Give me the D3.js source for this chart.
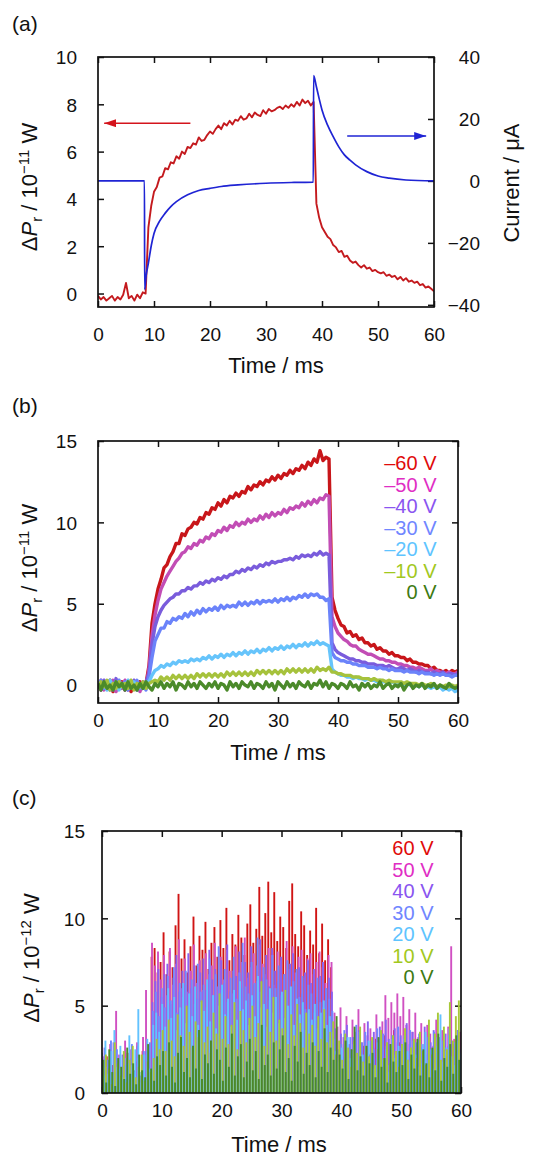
<!DOCTYPE html>
<html><head><meta charset="utf-8">
<script src="https://cdn.jsdelivr.net/npm/d3@7"></script>
<style>
body{margin:0;background:#fff;}
svg text{font-family:"Liberation Sans",Arial,Helvetica,sans-serif;}
</style></head><body>
<svg id="chart" width="536" height="1156"></svg>
<script>
// ---------- DATA ----------
// sampling clock (ms), 0.5 ms steps, 121 samples, shared by sampled series
const timeMs = d3.range(0, 60.001, 0.5);
const xTicks = [0, 10, 20, 30, 40, 50, 60];
const aPowerTicks = [0, 2, 4, 6, 8, 10];
const aCurrentTicks = [-40, -20, 0, 20, 40];
const bPowerTicks = [0, 5, 10, 15];
const cPowerTicks = [0, 5, 10, 15];

// (a) ΔPr (10^-11 W)
const aPower = [
-0.1,-0.25,-0.15,-0.3,-0.2,-0.1,-0.3,-0.15,-0.25,-0.05,
0.45,-0.2,-0.1,-0.3,-0.05,-0.2,0.05,0.0,2.8,3.7,
4.3,4.5,4.9,4.95,5.3,5.25,5.55,5.5,5.8,5.7,
6.0,5.9,6.2,6.15,6.35,6.3,6.6,6.45,6.5,6.7,
6.85,6.75,6.95,7.1,6.95,7.2,7.1,7.3,7.15,7.35,
7.3,7.5,7.35,7.4,7.6,7.45,7.65,7.55,7.5,7.75,
7.6,7.8,7.7,7.75,7.85,7.9,7.8,7.95,7.85,8.0,
7.9,8.1,7.95,8.2,8.05,8.15,7.95,8.1,3.8,3.2,
2.8,2.6,2.4,2.3,2.05,1.95,1.75,1.8,1.55,1.6,
1.4,1.3,1.35,1.2,1.1,1.2,1.05,1.1,0.95,1.0,
0.9,0.85,0.9,0.75,0.8,0.7,0.75,0.6,0.7,0.55,
0.65,0.5,0.55,0.45,0.5,0.35,0.4,0.25,0.3,0.2,
0.1];
// (a) current (µA), read at these times (ms)
const aCurrentTime = [0,8.3,8.33,8.6,9,9.5,10,11,12,13,14,16,18,20,22,25,30,35,38.45,38.5,39,39.5,40,41,42,43,44,45,46,48,50,52,55,60];
const aCurrent     = [0,0,-35,-30.5,-26.5,-21,-17,-13,-10.4,-8.3,-6.7,-4.5,-3.1,-2.4,-1.8,-1.3,-0.75,-0.5,-0.4,34,30.4,26.5,22.9,18,14.3,11,8.4,6.7,5.2,3.0,1.6,0.9,0.3,0];

// (b) ΔPr (10^-11 W) at bias voltages
const bLabels = ["–60 V", "–50 V", "–40 V", "–30 V", "–20 V", "–10 V", "0 V"];
const bM60 = [
0.1,-0.3,0.2,-0.2,0.3,-0.4,0.1,-0.2,0.2,-0.3,
0.2,-0.4,0.1,-0.3,0.2,-0.2,0.1,1.2,3.8,5.0,
5.9,6.5,7.2,7.4,7.9,8.2,8.7,8.7,9.3,9.2,
9.6,9.7,10.0,9.9,10.3,10.2,10.6,10.5,10.9,10.8,
11.2,11.0,11.4,11.2,11.6,11.5,11.8,11.6,11.9,11.8,
12.2,12.0,12.3,12.2,12.5,12.3,12.6,12.5,12.8,12.6,
12.9,12.7,13.0,12.9,13.2,13.0,13.3,13.2,13.5,13.3,
13.7,13.5,13.9,13.7,14.4,13.8,14.0,13.9,5.4,4.6,
4.1,3.7,3.6,3.2,3.3,3.0,3.1,2.8,2.9,2.6,
2.6,2.4,2.5,2.2,2.3,2.1,2.1,1.9,2.0,1.8,
1.8,1.7,1.7,1.5,1.6,1.4,1.4,1.3,1.3,1.2,
1.2,1.0,1.1,0.9,0.9,0.8,0.9,0.7,0.9,0.8,
0.9];
const bM50 = [
-0.2,0.3,-0.3,0.2,-0.1,0.3,-0.4,0.1,-0.2,0.3,
-0.3,0.2,-0.2,0.1,-0.4,0.2,-0.1,1.0,3.0,4.3,
5.2,5.9,6.3,6.7,7.0,7.3,7.6,7.8,8.1,8.2,
8.5,8.4,8.7,8.6,8.9,8.8,9.1,9.0,9.3,9.2,
9.5,9.4,9.7,9.5,9.8,9.7,10.0,9.8,10.0,9.9,
10.2,10.0,10.2,10.1,10.4,10.2,10.5,10.3,10.6,10.4,
10.6,10.5,10.8,10.6,10.9,10.8,11.0,10.9,11.2,11.0,
11.3,11.1,11.4,11.2,11.5,11.4,11.7,11.6,4.2,3.6,
3.2,3.0,2.8,2.7,2.5,2.4,2.4,2.2,2.1,2.0,
1.9,1.9,1.8,1.7,1.6,1.6,1.5,1.5,1.4,1.4,
1.3,1.3,1.2,1.2,1.1,1.1,1.0,1.1,1.0,0.9,
0.9,1.0,0.8,0.9,0.8,0.8,0.7,0.8,0.7,0.7,
0.8];
const bM40 = [
0.2,-0.3,0.3,-0.1,0.2,-0.3,0.4,-0.2,0.1,-0.3,
0.2,-0.2,0.3,-0.3,0.1,-0.2,0.2,0.7,2.5,3.6,
4.2,4.6,4.9,5.1,5.3,5.4,5.6,5.6,5.8,5.8,
6.0,5.9,6.1,6.1,6.3,6.2,6.4,6.3,6.5,6.4,
6.6,6.5,6.7,6.6,6.8,6.8,7.0,6.9,7.1,7.0,
7.2,7.1,7.3,7.2,7.4,7.3,7.5,7.4,7.6,7.5,
7.6,7.6,7.7,7.7,7.8,7.7,7.9,7.8,8.0,7.9,
8.0,7.9,8.1,8.0,8.2,8.0,8.1,8.0,2.6,2.2,
2.0,1.9,1.8,1.7,1.6,1.6,1.5,1.5,1.4,1.4,
1.3,1.3,1.3,1.2,1.2,1.2,1.1,1.2,1.1,1.0,
1.0,1.1,1.0,0.9,1.0,0.9,0.8,0.9,0.8,0.8,
0.8,0.7,0.8,0.7,0.7,0.8,0.6,0.7,0.7,0.6,
0.7];
const bM30 = [
-0.1,0.3,-0.2,0.2,-0.3,0.1,-0.2,0.3,-0.1,0.2,
-0.3,0.2,-0.1,0.3,-0.2,0.1,-0.3,0.5,1.7,2.7,
3.1,3.5,3.5,3.9,3.8,4.1,4.0,4.2,4.1,4.4,
4.2,4.5,4.3,4.6,4.4,4.7,4.5,4.7,4.6,4.8,
4.6,4.9,4.7,4.9,4.8,4.9,4.8,5.1,4.9,5.1,
4.9,5.1,5.0,5.2,5.0,5.2,5.1,5.2,5.1,5.3,
5.1,5.3,5.2,5.4,5.2,5.4,5.3,5.5,5.4,5.6,
5.4,5.6,5.5,5.6,5.4,5.4,5.2,5.3,2.0,1.7,
1.6,1.5,1.5,1.4,1.4,1.3,1.3,1.2,1.2,1.2,
1.1,1.1,1.1,1.0,1.1,1.0,1.0,0.9,1.0,0.9,
0.9,0.9,0.8,0.9,0.8,0.8,0.8,0.7,0.8,0.7,
0.7,0.7,0.6,0.7,0.6,0.7,0.6,0.6,0.5,0.6,
0.6];
const bM20 = [
0.2,-0.2,0.1,-0.3,0.3,-0.1,0.2,-0.3,0.1,-0.2,
0.3,-0.1,0.2,-0.3,0.1,-0.2,0.2,0.2,0.6,0.9,
1.0,1.2,1.1,1.3,1.2,1.4,1.3,1.5,1.4,1.5,
1.4,1.6,1.5,1.6,1.5,1.7,1.6,1.8,1.6,1.8,
1.7,1.9,1.7,1.9,1.8,2.0,1.8,2.0,1.9,2.1,
1.9,2.1,2.0,2.2,2.0,2.2,2.1,2.3,2.1,2.3,
2.2,2.4,2.2,2.4,2.3,2.5,2.3,2.5,2.4,2.6,
2.4,2.6,2.5,2.7,2.5,2.6,2.5,2.4,1.0,0.8,
0.7,0.6,0.6,0.5,0.5,0.4,0.5,0.4,0.4,0.3,
0.4,0.3,0.3,0.2,0.3,0.2,0.2,0.1,0.2,0.1,
0.1,0.1,0.0,0.1,0.0,-0.1,0.0,-0.1,0.0,-0.1,
-0.1,-0.2,-0.1,-0.2,-0.1,-0.3,-0.2,-0.3,-0.2,-0.4,
-0.3];
const bM10 = [
-0.2,0.2,-0.1,0.3,-0.3,0.1,-0.2,0.2,-0.1,0.1,
-0.2,0.3,-0.3,0.1,-0.1,0.2,-0.2,0.1,0.2,0.3,
0.2,0.5,0.3,0.5,0.3,0.6,0.4,0.6,0.4,0.6,
0.4,0.6,0.4,0.7,0.5,0.7,0.5,0.7,0.5,0.7,
0.5,0.7,0.5,0.8,0.6,0.8,0.6,0.8,0.6,0.8,
0.6,0.8,0.6,0.9,0.7,0.9,0.7,0.9,0.7,0.9,
0.7,0.9,0.7,1.0,0.8,1.0,0.8,1.0,0.8,1.0,
0.8,1.0,0.8,1.1,0.9,1.0,0.9,1.1,0.8,0.8,
0.7,0.7,0.6,0.6,0.6,0.5,0.5,0.5,0.4,0.4,
0.4,0.3,0.4,0.3,0.3,0.3,0.2,0.3,0.2,0.2,
0.2,0.2,0.1,0.2,0.1,0.1,0.1,0.0,0.1,0.0,
0.0,0.1,0.0,-0.1,0.0,-0.1,0.0,-0.1,0.0,-0.1,
0.0];
const b0 = [
0.1,-0.3,0.2,-0.2,0.0,-0.3,0.2,-0.1,0.1,-0.3,
0.2,-0.2,0.0,-0.3,0.1,-0.2,0.2,-0.1,-0.3,0.1,
-0.1,0.2,-0.2,0.1,-0.1,0.2,-0.3,0.1,0.0,-0.2,
0.2,-0.1,0.1,-0.2,0.2,0.0,-0.2,0.1,-0.1,0.2,
-0.2,0.1,0.0,-0.3,0.2,-0.1,0.1,-0.2,0.2,0.0,
-0.1,0.2,-0.2,0.1,0.0,-0.2,0.2,-0.1,0.1,-0.3,
0.2,0.0,-0.2,0.2,-0.1,0.1,-0.2,0.2,0.0,-0.1,
0.2,-0.2,0.1,0.0,0.3,-0.1,0.2,-0.2,0.1,0.0,
-0.2,0.1,0.0,-0.2,0.2,-0.1,0.0,-0.3,0.1,-0.1,
0.1,-0.2,0.0,-0.1,0.2,-0.2,0.0,0.1,-0.2,0.0,
-0.1,0.1,-0.3,0.0,0.1,-0.2,0.0,-0.1,0.1,-0.2,
0.0,-0.1,0.1,-0.2,0.0,-0.1,-0.2,0.1,-0.1,-0.2,
-0.1];

// (c) ΔPr (10^-12 W) at positive bias voltages
const cLabels = ["60 V", "50 V", "40 V", "30 V", "20 V", "10 V", "0 V"];
const c60 = [
1.2,0.5,2.1,0.8,1.6,0.3,1.9,1.0,0.6,2.3,
1.1,0.7,1.8,0.4,2.4,1.3,0.9,7.8,8.3,6.9,
7.5,9.2,6.8,8.1,7.2,9.6,11.4,7.7,8.8,6.9,
8.4,10.1,7.3,9.0,8.2,9.8,7.1,8.6,9.5,7.8,
9.9,8.3,10.6,7.6,9.1,8.5,10.2,8.9,7.9,9.7,
10.8,8.6,9.4,11.8,9.0,10.3,12.1,9.2,11.5,8.7,
10.1,9.5,8.3,11.0,12.0,9.1,8.4,10.4,9.6,7.9,
9.3,8.5,10.6,8.0,9.7,7.6,8.8,7.2,2.8,1.6,
2.3,1.1,3.0,1.8,2.5,0.9,2.0,1.4,2.7,1.2,
2.2,1.5,3.1,1.0,2.4,3.3,1.7,2.8,3.6,2.1,
2.9,1.3,3.4,1.9,2.2,1.0,2.6,1.6,2.0,0.8,
1.8,2.5,1.2,2.1,0.7,1.9,2.4,1.1,2.8,1.5,
2.0];
const c50 = [
3.4,2.1,1.5,2.8,1.0,4.7,2.2,1.3,3.0,1.7,
2.5,1.1,2.9,0.8,3.2,5.9,2.0,8.6,7.3,8.1,
6.5,7.9,5.6,8.3,6.2,7.4,8.8,6.0,7.7,5.8,
7.0,8.5,6.3,7.6,5.9,8.0,6.8,7.3,8.6,6.1,
7.8,6.5,8.2,7.0,5.7,8.4,6.9,7.5,8.9,6.6,
7.2,8.0,6.4,8.5,7.4,6.8,8.3,7.9,6.2,8.1,
7.6,6.5,8.7,7.1,8.4,6.9,7.8,8.2,6.6,7.7,
8.0,6.8,7.5,8.1,7.2,6.3,7.9,7.5,4.6,3.8,
4.9,3.2,4.4,2.8,4.2,3.5,4.8,2.9,4.0,3.3,
3.7,2.6,4.5,3.1,4.1,5.6,4.3,5.2,4.6,5.7,
4.4,5.5,3.9,4.8,3.5,4.6,3.2,4.0,2.8,3.9,
3.4,2.7,4.2,3.0,3.6,2.5,3.8,8.4,3.1,2.9,
3.5];
const c40 = [
1.5,2.6,0.9,1.8,2.9,1.2,0.6,2.2,1.6,0.8,
2.0,1.3,2.7,1.0,1.7,2.4,1.1,5.2,6.4,7.1,
5.5,6.8,7.4,5.1,6.6,7.9,5.8,7.0,6.2,8.0,
6.0,7.3,5.4,6.9,7.7,5.9,8.2,6.5,7.1,5.6,
7.6,6.3,8.5,5.8,7.0,6.7,8.1,6.0,7.5,6.9,
8.4,6.2,7.3,8.8,6.6,7.9,6.1,8.3,7.0,6.4,
7.8,6.8,5.9,7.4,8.0,6.2,7.2,5.7,6.9,7.6,
6.3,7.1,5.5,6.7,7.5,6.0,6.6,5.8,3.7,2.5,
3.4,2.1,3.9,2.7,3.2,1.8,3.6,2.4,3.0,4.1,
2.3,3.5,2.0,3.8,2.6,4.2,3.1,2.2,3.7,2.9,
3.3,2.4,4.0,2.8,3.5,2.0,3.1,2.6,3.8,2.2,
2.9,3.6,2.3,3.2,1.9,3.4,2.7,3.0,2.1,3.6,
2.5];
const c30 = [
2.3,1.0,1.9,3.0,0.7,2.5,1.4,2.1,0.9,1.7,
2.8,1.2,2.0,0.6,2.4,1.5,2.9,4.7,5.8,4.4,
6.0,4.9,6.7,5.3,7.2,4.6,6.3,5.5,7.0,4.8,
6.5,5.1,7.4,5.8,6.2,4.9,7.7,5.6,6.8,8.4,
5.9,7.1,5.2,6.6,7.8,5.4,6.9,8.6,6.1,5.7,
7.5,6.3,8.9,5.8,7.2,6.5,5.3,7.9,6.0,7.3,
5.6,6.8,7.6,5.0,6.4,7.1,5.5,6.7,4.8,6.2,
5.7,4.6,6.6,5.2,4.9,6.0,5.4,4.7,3.1,2.0,
2.8,3.6,1.9,3.2,2.4,3.9,2.1,2.9,3.5,1.8,
3.0,2.5,3.7,2.0,3.4,2.7,1.6,3.3,2.2,3.8,
2.6,3.1,1.9,3.6,2.3,2.9,3.4,1.7,2.8,3.2,
2.0,3.5,2.7,1.5,3.0,2.4,3.3,1.8,2.9,3.6,
2.2];
const c20 = [
1.8,3.0,1.1,2.4,3.6,1.5,2.7,0.9,2.0,3.3,
1.6,2.5,4.8,1.2,2.2,3.1,1.4,3.9,4.6,3.5,
5.1,3.8,6.0,4.3,5.5,3.6,4.9,6.3,4.0,5.7,
4.4,6.1,3.9,5.2,4.7,6.5,4.1,5.6,3.7,5.0,
6.2,4.5,5.4,3.8,5.9,4.2,6.4,4.8,5.3,3.9,
5.6,4.4,6.7,4.9,5.1,3.8,6.0,4.6,5.5,4.0,
5.8,4.3,5.0,6.1,3.9,5.4,4.5,5.2,3.6,4.8,
4.2,5.1,3.7,4.6,5.3,3.9,4.4,3.5,2.4,1.8,
2.6,1.5,3.2,2.0,2.8,1.3,3.5,2.2,1.7,3.0,
2.3,1.4,2.9,3.6,1.9,2.5,1.2,3.1,2.0,2.7,
1.6,3.3,2.4,1.8,3.0,2.2,1.5,2.8,3.5,1.9,
2.5,1.4,3.2,4.5,1.8,2.6,3.7,2.1,1.6,3.0,
2.3];
const c10 = [
0.8,2.2,1.4,0.5,2.9,1.7,1.0,2.4,0.6,1.9,
2.7,0.9,1.5,2.2,0.7,1.8,1.2,2.0,3.1,2.5,
3.6,2.4,4.2,3.0,2.1,4.5,3.3,2.7,5.0,3.5,
2.6,4.1,3.2,5.3,2.9,3.8,2.3,4.6,3.4,5.7,
3.1,4.4,2.8,3.9,5.2,2.5,4.7,3.6,2.9,4.3,
5.0,3.2,4.0,6.4,2.7,4.8,3.5,5.5,3.0,4.2,
3.7,5.9,2.8,4.5,3.3,5.1,4.0,2.6,4.6,3.4,
3.9,2.7,4.4,3.1,4.8,2.9,3.5,4.1,2.2,3.0,
1.9,3.4,2.6,1.5,3.0,2.3,3.8,1.8,2.7,2.1,
3.2,1.6,2.5,3.6,2.0,2.9,1.7,3.3,2.4,1.5,
2.8,3.7,1.9,2.6,3.1,2.0,3.5,2.4,1.6,4.2,
2.2,3.4,4.6,1.9,3.8,2.5,5.2,3.0,4.4,5.3,
3.1];
const c0 = [
1.9,0.6,2.5,1.2,0.4,2.0,1.5,0.8,2.6,1.1,
1.7,0.5,2.2,1.3,0.9,2.8,1.4,0.7,2.1,1.6,
2.4,1.0,2.9,1.5,0.6,2.3,3.2,1.2,2.0,0.9,
2.7,1.4,3.6,0.8,2.2,1.7,3.0,1.1,2.5,1.9,
0.7,2.6,1.5,3.4,1.0,2.1,2.8,0.9,1.8,3.1,
1.3,2.4,0.8,3.9,1.6,2.2,1.0,2.9,1.4,2.5,
3.3,1.2,2.0,0.7,2.7,1.8,3.5,1.1,2.3,1.6,
2.9,0.9,2.4,1.5,3.7,1.2,2.6,1.9,4.4,2.2,
1.4,3.0,0.8,2.5,3.8,1.3,2.1,1.0,2.7,1.7,
2.3,0.9,3.2,1.5,2.0,0.6,2.8,1.8,1.2,2.4,
1.6,2.9,0.8,2.2,1.4,3.1,1.0,2.5,1.7,0.9,
2.6,1.3,3.4,0.7,2.0,1.5,2.8,1.1,3.3,1.9,
2.4];

// ---------- STYLE ----------
const bLineColors = ["#c8161a", "#c24db5", "#7a5cdc", "#6b83fa", "#66c4fb", "#a6c23c", "#4b8a2a"];
const bTextColors = ["#e00a0a", "#e02ec4", "#8a55f0", "#7086ff", "#5ec4ff", "#a2c81e", "#3d7a12"];
const cLineColors = ["#d01414", "#d050c2", "#8a62f0", "#7088ff", "#62c2ff", "#a8c838", "#4a8a28"];
const cTextColors = ["#e00a0a", "#e02ec4", "#8a55f0", "#7086ff", "#5ec4ff", "#a2c81e", "#3d7a12"];
const TICK_FS = 19, TITLE_FS = 22;

const svg = d3.select("#chart");
svg.append("rect").attr("width", 536).attr("height", 1156).attr("fill", "#fff");

function styleAxis(g) {
  g.select(".domain").remove();
  g.selectAll(".tick line").attr("stroke", "#111").attr("stroke-width", 1.5);
  g.selectAll("text").attr("font-size", TICK_FS).attr("fill", "#111")
    .attr("font-family", "'Liberation Sans', Arial, Helvetica, sans-serif");
}
const fmtMinus = d => (d < 0 ? "−" + Math.abs(d) : String(d));

function panelFrame(x, y, yTicks, opts) {
  const [x0, x1] = x.range();
  const [yb, yt] = y.range();
  const g = svg.append("g");
  g.append("g").attr("transform", `translate(0,${yb})`)
    .call(d3.axisBottom(x).tickValues(xTicks).tickSizeInner(-6).tickSizeOuter(0).tickFormat(d3.format("d")))
    .call(styleAxis)
    .call(a => a.selectAll("text").attr("y", opts.xLabelDy).attr("dy", null));
  g.append("g").attr("transform", `translate(0,${yt})`)
    .call(d3.axisTop(x).tickValues(xTicks).tickSizeInner(-6).tickSizeOuter(0).tickFormat(""))
    .call(styleAxis);
  g.append("g").attr("transform", `translate(${x0},0)`)
    .call(d3.axisLeft(y).tickValues(yTicks).tickSizeInner(-6).tickSizeOuter(0).tickFormat(fmtMinus))
    .call(styleAxis)
    .call(a => a.selectAll("text").attr("x", -opts.yLabelGap).attr("dy", "0.36em"));
  if (opts.mirrorY) {
    g.append("g").attr("transform", `translate(${x1},0)`)
      .call(d3.axisRight(y).tickValues(yTicks).tickSizeInner(-6).tickSizeOuter(0).tickFormat(""))
      .call(styleAxis);
  }
  return g;
}
function frameRect(x, y) {
  const [x0, x1] = x.range();
  const [yb, yt] = y.range();
  svg.append("rect").attr("x", x0).attr("y", yt).attr("width", x1 - x0).attr("height", yb - yt)
    .attr("fill", "none").attr("stroke", "#111").attr("stroke-width", 1.7);
}
function clipFor(id, x, y) {
  const [x0, x1] = x.range();
  const [yb, yt] = y.range();
  svg.append("clipPath").attr("id", id).append("rect")
    .attr("x", x0).attr("y", yt).attr("width", x1 - x0).attr("height", yb - yt);
  return `url(#${id})`;
}
function powerTitle(cx, cy, exp) {
  const t = svg.append("text").attr("transform", `translate(${cx},${cy}) rotate(-90)`)
    .attr("text-anchor", "middle").attr("font-size", TITLE_FS).attr("fill", "#111");
  t.append("tspan").text("Δ");
  t.append("tspan").attr("font-style", "italic").text("P");
  t.append("tspan").attr("font-size", TITLE_FS * 0.68).attr("dy", 5).text("r");
  t.append("tspan").attr("dy", -5).text(" / 10");
  t.append("tspan").attr("font-size", TITLE_FS * 0.68).attr("dy", -8).text(exp);
  t.append("tspan").attr("dy", 8).text(" W");
}
function timeTitle(cx, by) {
  svg.append("text").attr("x", cx).attr("y", by).attr("text-anchor", "middle")
    .attr("font-size", TITLE_FS).attr("fill", "#111").text("Time / ms");
}
function panelLabel(txt, x, y) {
  svg.append("text").attr("x", x).attr("y", y).attr("font-size", 21).attr("fill", "#111").text(txt);
}

// ---------- PANEL (a) ----------
const xa = d3.scaleLinear().domain([0, 60]).range([98, 434]);
const ya = d3.scaleLinear().domain([-0.57, 10]).range([307, 57]);
const yaCur = d3.scaleLinear().domain([-40.7, 40]).range([307, 57]);
panelFrame(xa, ya, aPowerTicks, { xLabelDy: 34, yLabelGap: 21, mirrorY: false });
svg.append("g").attr("transform", `translate(434,0)`)
  .call(d3.axisRight(yaCur).tickValues(aCurrentTicks).tickSizeInner(-6).tickSizeOuter(0).tickFormat(fmtMinus))
  .call(styleAxis)
  .call(a => a.selectAll("text").attr("x", 46).attr("text-anchor", "end").attr("dy", "0.36em"));
const clipA = clipFor("clipA", xa, ya);
svg.append("path").datum(aPower).attr("clip-path", clipA)
  .attr("d", d3.line().x((d, i) => xa(timeMs[i])).y(d => ya(d)))
  .attr("fill", "none").attr("stroke", "#c41a1e").attr("stroke-width", 1.9).attr("stroke-linejoin", "round");
svg.append("path").datum(aCurrent).attr("clip-path", clipA)
  .attr("d", d3.line().x((d, i) => xa(aCurrentTime[i])).y(d => yaCur(d)).curve(d3.curveMonotoneX))
  .attr("fill", "none").attr("stroke", "#1f24d4").attr("stroke-width", 1.7);
frameRect(xa, ya);
const defs = svg.append("defs");
[["arrRed", "#d4141c"], ["arrBlue", "#1f24d4"]].forEach(([id, c]) => {
  defs.append("marker").attr("id", id).attr("viewBox", "0 0 12 8").attr("refX", 12).attr("refY", 4)
    .attr("markerWidth", 12).attr("markerHeight", 8).attr("markerUnits", "userSpaceOnUse").attr("orient", "auto")
    .append("path").attr("d", "M0,0 L12,4 L0,8 Z").attr("fill", c);
});
svg.append("line").attr("x1", xa(16.5)).attr("x2", xa(1.1)).attr("y1", ya(7.2)).attr("y2", ya(7.2))
  .attr("stroke", "#d4141c").attr("stroke-width", 1.5).attr("marker-end", "url(#arrRed)");
svg.append("line").attr("x1", xa(44.5)).attr("x2", xa(58.6)).attr("y1", yaCur(14.5)).attr("y2", yaCur(14.5))
  .attr("stroke", "#1f24d4").attr("stroke-width", 1.5).attr("marker-end", "url(#arrBlue)");
powerTitle(37, 187, "−11");
svg.append("text").attr("transform", "translate(519,183) rotate(-90)").attr("text-anchor", "middle")
  .attr("font-size", TITLE_FS).attr("fill", "#111").text("Current / μA");
timeTitle(276, 373);
panelLabel("(a)", 12, 31);

// ---------- PANEL (b) ----------
const xb = d3.scaleLinear().domain([0, 60]).range([98, 458]);
const yb = d3.scaleLinear().domain([-1.1, 15]).range([703, 441]);
panelFrame(xb, yb, bPowerTicks, { xLabelDy: 24, yLabelGap: 21, mirrorY: true });
const clipB = clipFor("clipB", xb, yb);
const bSeries = [bM60, bM50, bM40, bM30, bM20, bM10, b0];
const lineB = d3.line().x((d, i) => xb(timeMs[i])).y(d => yb(d));
bSeries.forEach((s, k) => {
  svg.append("path").datum(s).attr("clip-path", clipB).attr("d", lineB)
    .attr("fill", "none").attr("stroke", bLineColors[k]).attr("stroke-width", 3.4)
    .attr("stroke-linejoin", "round");
});
frameRect(xb, yb);
bLabels.forEach((lab, k) => {
  svg.append("text").attr("x", 436.5).attr("y", 470 + k * 21.5).attr("text-anchor", "end")
    .attr("font-size", 20).attr("fill", bTextColors[k]).text(lab);
});
powerTitle(37, 568, "−11");
timeTitle(278, 760);
panelLabel("(b)", 12, 413);

// ---------- PANEL (c) ----------
const xc = d3.scaleLinear().domain([0, 60]).range([102, 461]);
const yc = d3.scaleLinear().domain([0, 15]).range([1093, 831]);
panelFrame(xc, yc, cPowerTicks, { xLabelDy: 24, yLabelGap: 17, mirrorY: true });
const clipC = clipFor("clipC", xc, yc);
const cSeries = [c60, c50, c40, c30, c20, c10, c0];
cSeries.forEach((s, k) => {
  const dodge = (k - 3) * 0.42;
  svg.append("g").attr("clip-path", clipC).selectAll("line").data(s).join("line")
    .attr("x1", (d, i) => xc(timeMs[i]) + dodge).attr("x2", (d, i) => xc(timeMs[i]) + dodge)
    .attr("y1", yc(0)).attr("y2", d => yc(d))
    .attr("stroke", cLineColors[k]).attr("stroke-width", 1.9);
});
frameRect(xc, yc);
cLabels.forEach((lab, k) => {
  svg.append("text").attr("x", 433.5).attr("y", 855 + k * 21.5).attr("text-anchor", "end")
    .attr("font-size", 20).attr("fill", cTextColors[k]).text(lab);
});
powerTitle(39, 958, "−12");
timeTitle(279, 1152);
panelLabel("(c)", 12, 805);
</script></body></html>
